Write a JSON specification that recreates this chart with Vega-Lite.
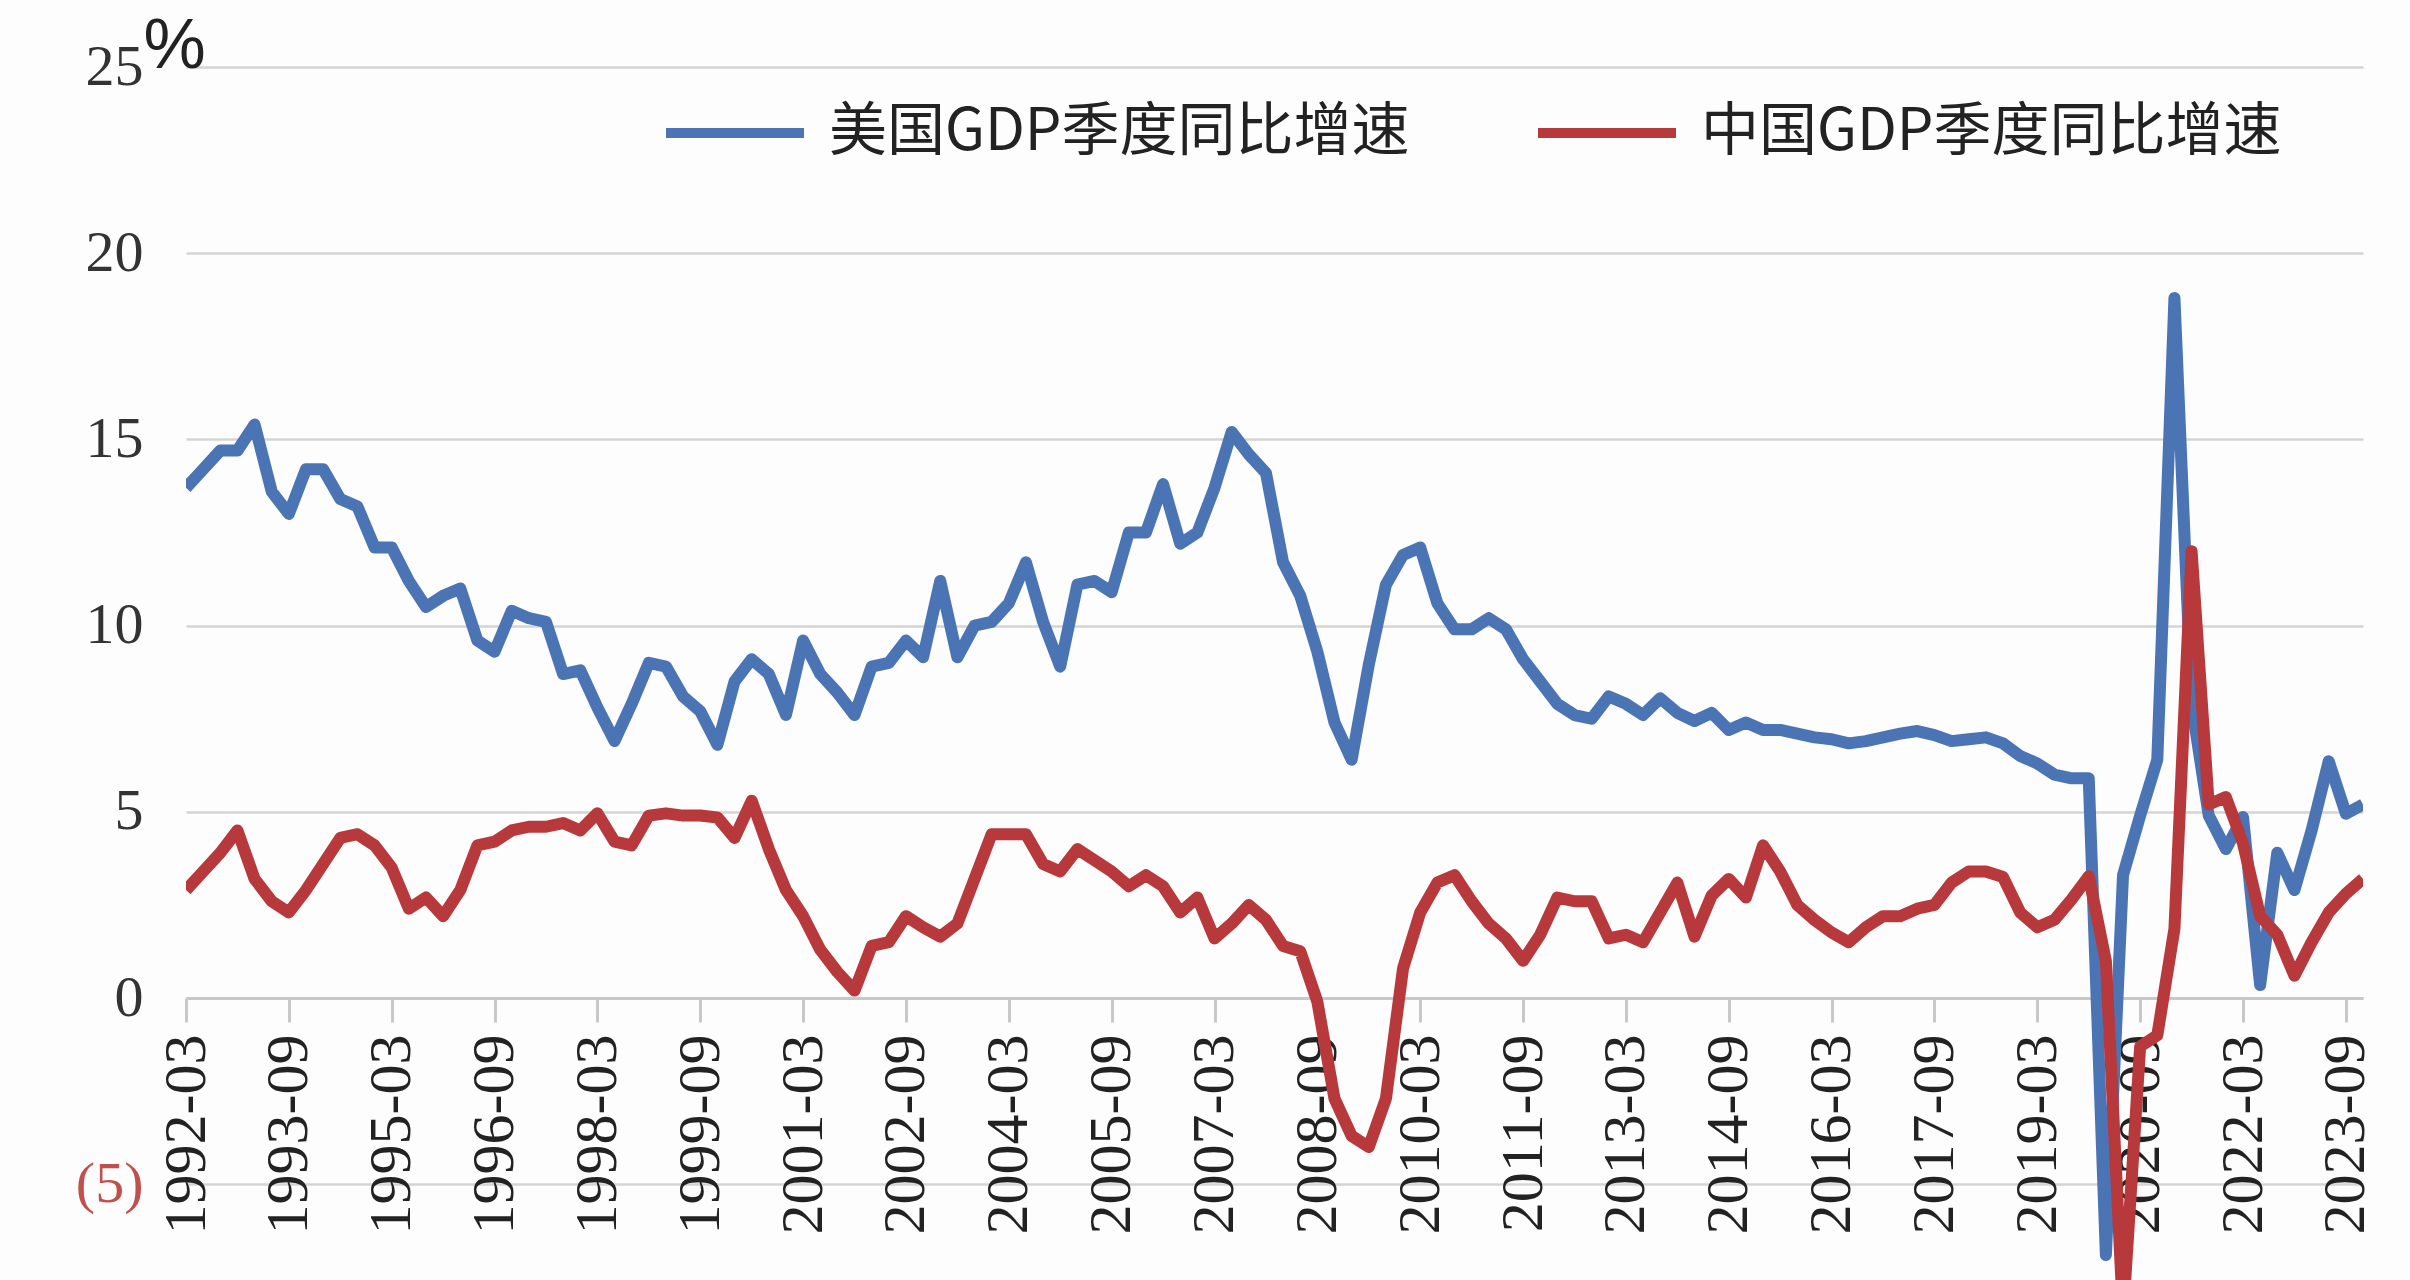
{
  "$schema": "https://vega.github.io/schema/vega-lite/v6.json",
  "width": 2177,
  "height": 1213,
  "autosize": {"type": "none"},
  "padding": {"left": 186, "top": 67, "right": 47, "bottom": 0},
  "background": "#fdfdfd",
  "config": {"view": {"stroke": null}},
  "data": {"values": [
    {"d":"1992-03","美国GDP季度同比增速":13.7,"中国GDP季度同比增速":2.9},
    {"d":"1992-06","美国GDP季度同比增速":14.2,"中国GDP季度同比增速":3.4},
    {"d":"1992-09","美国GDP季度同比增速":14.7,"中国GDP季度同比增速":3.9},
    {"d":"1992-12","美国GDP季度同比增速":14.7,"中国GDP季度同比增速":4.5},
    {"d":"1993-03","美国GDP季度同比增速":15.4,"中国GDP季度同比增速":3.2},
    {"d":"1993-06","美国GDP季度同比增速":13.6,"中国GDP季度同比增速":2.6},
    {"d":"1993-09","美国GDP季度同比增速":13.0,"中国GDP季度同比增速":2.3},
    {"d":"1993-12","美国GDP季度同比增速":14.2,"中国GDP季度同比增速":2.9},
    {"d":"1994-03","美国GDP季度同比增速":14.2,"中国GDP季度同比增速":3.6},
    {"d":"1994-06","美国GDP季度同比增速":13.4,"中国GDP季度同比增速":4.3},
    {"d":"1994-09","美国GDP季度同比增速":13.2,"中国GDP季度同比增速":4.4},
    {"d":"1994-12","美国GDP季度同比增速":12.1,"中国GDP季度同比增速":4.1},
    {"d":"1995-03","美国GDP季度同比增速":12.1,"中国GDP季度同比增速":3.5},
    {"d":"1995-06","美国GDP季度同比增速":11.2,"中国GDP季度同比增速":2.4},
    {"d":"1995-09","美国GDP季度同比增速":10.5,"中国GDP季度同比增速":2.7},
    {"d":"1995-12","美国GDP季度同比增速":10.8,"中国GDP季度同比增速":2.2},
    {"d":"1996-03","美国GDP季度同比增速":11.0,"中国GDP季度同比增速":2.9},
    {"d":"1996-06","美国GDP季度同比增速":9.6,"中国GDP季度同比增速":4.1},
    {"d":"1996-09","美国GDP季度同比增速":9.3,"中国GDP季度同比增速":4.2},
    {"d":"1996-12","美国GDP季度同比增速":10.4,"中国GDP季度同比增速":4.5},
    {"d":"1997-03","美国GDP季度同比增速":10.2,"中国GDP季度同比增速":4.6},
    {"d":"1997-06","美国GDP季度同比增速":10.1,"中国GDP季度同比增速":4.6},
    {"d":"1997-09","美国GDP季度同比增速":8.7,"中国GDP季度同比增速":4.7},
    {"d":"1997-12","美国GDP季度同比增速":8.8,"中国GDP季度同比增速":4.5},
    {"d":"1998-03","美国GDP季度同比增速":7.8,"中国GDP季度同比增速":4.96},
    {"d":"1998-06","美国GDP季度同比增速":6.9,"中国GDP季度同比增速":4.2},
    {"d":"1998-09","美国GDP季度同比增速":7.9,"中国GDP季度同比增速":4.1},
    {"d":"1998-12","美国GDP季度同比增速":9.0,"中国GDP季度同比增速":4.9},
    {"d":"1999-03","美国GDP季度同比增速":8.9,"中国GDP季度同比增速":4.96},
    {"d":"1999-06","美国GDP季度同比增速":8.1,"中国GDP季度同比增速":4.9},
    {"d":"1999-09","美国GDP季度同比增速":7.7,"中国GDP季度同比增速":4.9},
    {"d":"1999-12","美国GDP季度同比增速":6.8,"中国GDP季度同比增速":4.85},
    {"d":"2000-03","美国GDP季度同比增速":8.5,"中国GDP季度同比增速":4.3},
    {"d":"2000-06","美国GDP季度同比增速":9.1,"中国GDP季度同比增速":5.3},
    {"d":"2000-09","美国GDP季度同比增速":8.7,"中国GDP季度同比增速":4.0},
    {"d":"2000-12","美国GDP季度同比增速":7.6,"中国GDP季度同比增速":2.9},
    {"d":"2001-03","美国GDP季度同比增速":9.6,"中国GDP季度同比增速":2.2},
    {"d":"2001-06","美国GDP季度同比增速":8.7,"中国GDP季度同比增速":1.3},
    {"d":"2001-09","美国GDP季度同比增速":8.2,"中国GDP季度同比增速":0.7},
    {"d":"2001-12","美国GDP季度同比增速":7.6,"中国GDP季度同比增速":0.2},
    {"d":"2002-03","美国GDP季度同比增速":8.9,"中国GDP季度同比增速":1.4},
    {"d":"2002-06","美国GDP季度同比增速":9.0,"中国GDP季度同比增速":1.5},
    {"d":"2002-09","美国GDP季度同比增速":9.6,"中国GDP季度同比增速":2.2},
    {"d":"2002-12","美国GDP季度同比增速":9.15,"中国GDP季度同比增速":1.9},
    {"d":"2003-03","美国GDP季度同比增速":11.2,"中国GDP季度同比增速":1.65},
    {"d":"2003-06","美国GDP季度同比增速":9.15,"中国GDP季度同比增速":2.0},
    {"d":"2003-09","美国GDP季度同比增速":10.0,"中国GDP季度同比增速":3.2},
    {"d":"2003-12","美国GDP季度同比增速":10.1,"中国GDP季度同比增速":4.4},
    {"d":"2004-03","美国GDP季度同比增速":10.6,"中国GDP季度同比增速":4.4},
    {"d":"2004-06","美国GDP季度同比增速":11.7,"中国GDP季度同比增速":4.4},
    {"d":"2004-09","美国GDP季度同比增速":10.1,"中国GDP季度同比增速":3.6},
    {"d":"2004-12","美国GDP季度同比增速":8.9,"中国GDP季度同比增速":3.4},
    {"d":"2005-03","美国GDP季度同比增速":11.1,"中国GDP季度同比增速":4.0},
    {"d":"2005-06","美国GDP季度同比增速":11.2,"中国GDP季度同比增速":3.7},
    {"d":"2005-09","美国GDP季度同比增速":10.9,"中国GDP季度同比增速":3.4},
    {"d":"2005-12","美国GDP季度同比增速":12.5,"中国GDP季度同比增速":3.0},
    {"d":"2006-03","美国GDP季度同比增速":12.5,"中国GDP季度同比增速":3.3},
    {"d":"2006-06","美国GDP季度同比增速":13.8,"中国GDP季度同比增速":3.0},
    {"d":"2006-09","美国GDP季度同比增速":12.2,"中国GDP季度同比增速":2.3},
    {"d":"2006-12","美国GDP季度同比增速":12.5,"中国GDP季度同比增速":2.7},
    {"d":"2007-03","美国GDP季度同比增速":13.7,"中国GDP季度同比增速":1.6},
    {"d":"2007-06","美国GDP季度同比增速":15.2,"中国GDP季度同比增速":2.0},
    {"d":"2007-09","美国GDP季度同比增速":14.6,"中国GDP季度同比增速":2.5},
    {"d":"2007-12","美国GDP季度同比增速":14.1,"中国GDP季度同比增速":2.1},
    {"d":"2008-03","美国GDP季度同比增速":11.7,"中国GDP季度同比增速":1.4},
    {"d":"2008-06","美国GDP季度同比增速":10.8,"中国GDP季度同比增速":1.26},
    {"d":"2008-09","美国GDP季度同比增速":9.3,"中国GDP季度同比增速":-0.1},
    {"d":"2008-12","美国GDP季度同比增速":7.4,"中国GDP季度同比增速":-2.7},
    {"d":"2009-03","美国GDP季度同比增速":6.4,"中国GDP季度同比增速":-3.7},
    {"d":"2009-06","美国GDP季度同比增速":8.95,"中国GDP季度同比增速":-4.0},
    {"d":"2009-09","美国GDP季度同比增速":11.1,"中国GDP季度同比增速":-2.7},
    {"d":"2009-12","美国GDP季度同比增速":11.9,"中国GDP季度同比增速":0.8},
    {"d":"2010-03","美国GDP季度同比增速":12.1,"中国GDP季度同比增速":2.3},
    {"d":"2010-06","美国GDP季度同比增速":10.6,"中国GDP季度同比增速":3.1},
    {"d":"2010-09","美国GDP季度同比增速":9.9,"中国GDP季度同比增速":3.3},
    {"d":"2010-12","美国GDP季度同比增速":9.9,"中国GDP季度同比增速":2.6},
    {"d":"2011-03","美国GDP季度同比增速":10.2,"中国GDP季度同比增速":2.0},
    {"d":"2011-06","美国GDP季度同比增速":9.9,"中国GDP季度同比增速":1.6},
    {"d":"2011-09","美国GDP季度同比增速":9.1,"中国GDP季度同比增速":1.0},
    {"d":"2011-12","美国GDP季度同比增速":8.5,"中国GDP季度同比增速":1.7},
    {"d":"2012-03","美国GDP季度同比增速":7.9,"中国GDP季度同比增速":2.7},
    {"d":"2012-06","美国GDP季度同比增速":7.6,"中国GDP季度同比增速":2.6},
    {"d":"2012-09","美国GDP季度同比增速":7.5,"中国GDP季度同比增速":2.6},
    {"d":"2012-12","美国GDP季度同比增速":8.1,"中国GDP季度同比增速":1.6},
    {"d":"2013-03","美国GDP季度同比增速":7.9,"中国GDP季度同比增速":1.7},
    {"d":"2013-06","美国GDP季度同比增速":7.6,"中国GDP季度同比增速":1.5},
    {"d":"2013-09","美国GDP季度同比增速":8.05,"中国GDP季度同比增速":2.3},
    {"d":"2013-12","美国GDP季度同比增速":7.66,"中国GDP季度同比增速":3.1},
    {"d":"2014-03","美国GDP季度同比增速":7.44,"中国GDP季度同比增速":1.65},
    {"d":"2014-06","美国GDP季度同比增速":7.66,"中国GDP季度同比增速":2.75},
    {"d":"2014-09","美国GDP季度同比增速":7.2,"中国GDP季度同比增速":3.2},
    {"d":"2014-12","美国GDP季度同比增速":7.4,"中国GDP季度同比增速":2.7},
    {"d":"2015-03","美国GDP季度同比增速":7.2,"中国GDP季度同比增速":4.1},
    {"d":"2015-06","美国GDP季度同比增速":7.2,"中国GDP季度同比增速":3.4},
    {"d":"2015-09","美国GDP季度同比增速":7.1,"中国GDP季度同比增速":2.5},
    {"d":"2015-12","美国GDP季度同比增速":7.0,"中国GDP季度同比增速":2.1},
    {"d":"2016-03","美国GDP季度同比增速":6.95,"中国GDP季度同比增速":1.76},
    {"d":"2016-06","美国GDP季度同比增速":6.84,"中国GDP季度同比增速":1.5},
    {"d":"2016-09","美国GDP季度同比增速":6.9,"中国GDP季度同比增速":1.9},
    {"d":"2016-12","美国GDP季度同比增速":7.0,"中国GDP季度同比增速":2.2},
    {"d":"2017-03","美国GDP季度同比增速":7.1,"中国GDP季度同比增速":2.2},
    {"d":"2017-06","美国GDP季度同比增速":7.17,"中国GDP季度同比增速":2.4},
    {"d":"2017-09","美国GDP季度同比增速":7.06,"中国GDP季度同比增速":2.5},
    {"d":"2017-12","美国GDP季度同比增速":6.9,"中国GDP季度同比增速":3.1},
    {"d":"2018-03","美国GDP季度同比增速":6.95,"中国GDP季度同比增速":3.4},
    {"d":"2018-06","美国GDP季度同比增速":7.0,"中国GDP季度同比增速":3.4},
    {"d":"2018-09","美国GDP季度同比增速":6.84,"中国GDP季度同比增速":3.25},
    {"d":"2018-12","美国GDP季度同比增速":6.5,"中国GDP季度同比增速":2.3},
    {"d":"2019-03","美国GDP季度同比增速":6.3,"中国GDP季度同比增速":1.9},
    {"d":"2019-06","美国GDP季度同比增速":6.0,"中国GDP季度同比增速":2.1},
    {"d":"2019-09","美国GDP季度同比增速":5.9,"中国GDP季度同比增速":2.65},
    {"d":"2019-12","美国GDP季度同比增速":5.9,"中国GDP季度同比增速":3.27},
    {"d":"2020-03","美国GDP季度同比增速":-6.9,"中国GDP季度同比增速":1.0},
    {"d":"2020-06","美国GDP季度同比增速":3.3,"中国GDP季度同比增速":-8.5},
    {"d":"2020-09","美国GDP季度同比增速":4.9,"中国GDP季度同比增速":-1.3},
    {"d":"2020-12","美国GDP季度同比增速":6.4,"中国GDP季度同比增速":-1.0},
    {"d":"2021-03","美国GDP季度同比增速":18.8,"中国GDP季度同比增速":1.86},
    {"d":"2021-06","美国GDP季度同比增速":7.9,"中国GDP季度同比增速":12.0},
    {"d":"2021-09","美国GDP季度同比增速":4.9,"中国GDP季度同比增速":5.2},
    {"d":"2021-12","美国GDP季度同比增速":4.0,"中国GDP季度同比增速":5.4},
    {"d":"2022-03","美国GDP季度同比增速":4.86,"中国GDP季度同比增速":4.15},
    {"d":"2022-06","美国GDP季度同比增速":0.35,"中国GDP季度同比增速":2.2},
    {"d":"2022-09","美国GDP季度同比增速":3.9,"中国GDP季度同比增速":1.7},
    {"d":"2022-12","美国GDP季度同比增速":2.9,"中国GDP季度同比增速":0.6},
    {"d":"2023-03","美国GDP季度同比增速":4.5,"中国GDP季度同比增速":1.5},
    {"d":"2023-06","美国GDP季度同比增速":6.36,"中国GDP季度同比增速":2.3},
    {"d":"2023-09","美国GDP季度同比增速":4.95,"中国GDP季度同比增速":2.8},
    {"d":"2023-12","美国GDP季度同比增速":5.2,"中国GDP季度同比增速":3.2}
  ]},
  "transform": [{"fold": ["美国GDP季度同比增速", "中国GDP季度同比增速"], "as": ["s", "v"]}],
  "encoding": {
    "x": {
      "field": "d", "type": "ordinal",
      "scale": {"type": "point", "padding": 0},
      "axis": {
        "values": ["1992-03","1993-09","1995-03","1996-09","1998-03","1999-09","2001-03","2002-09","2004-03","2005-09","2007-03","2008-09","2010-03","2011-09","2013-03","2014-09","2016-03","2017-09","2019-03","2020-09","2022-03","2023-09"],
        "labelAngle": -90,
        "labelFont": "Liberation Serif",
        "labelFontSize": 60,
        "labelColor": "#222222",
        "labelPadding": 12,
        "labelLimit": 0,
        "labelOverlap": false,
        "labelBound": false,
        "tickSize": 24,
        "tickWidth": 3,
        "tickColor": "#c8c8c8",
        "domainColor": "#c8c8c8",
        "domainWidth": 3,
        "offset": -282,
        "title": null,
        "grid": false
      }
    },
    "y": {
      "field": "v", "type": "quantitative",
      "scale": {"domain": [-7.57, 25], "nice": false, "zero": false},
      "axis": {
        "values": [-5, 0, 5, 10, 15, 20, 25],
        "domain": false,
        "ticks": false,
        "labelFont": "Liberation Serif",
        "labelFontSize": 58,
        "labelPadding": 43,
        "labelColor": {"condition": {"test": "datum.value < 0", "value": "#c0504d"}, "value": "#333333"},
        "labelExpr": "datum.value < 0 ? '(' + abs(datum.value) + ')' : datum.label",
        "gridColor": "#d4d4d4",
        "gridWidth": 2.5,
        "title": "%",
        "titleAngle": 0,
        "titleFont": "Liberation Sans",
        "titleFontSize": 70,
        "titleFontWeight": "normal",
        "titleColor": "#222222",
        "titleAlign": "left",
        "titleBaseline": "alphabetic",
        "titleX": -43,
        "titleY": 0
      }
    },
    "color": {
      "field": "s", "type": "nominal",
      "scale": {"domain": ["美国GDP季度同比增速", "中国GDP季度同比增速"], "range": ["#4a74b4", "#b8393b"]},
      "legend": {
        "title": null,
        "orient": "none",
        "legendX": 475,
        "legendY": -8,
        "direction": "horizontal",
        "symbolType": "stroke",
        "symbolSize": 19044,
        "symbolStrokeWidth": 10,
        "labelFont": "Noto Sans CJK SC",
        "labelFontSize": 58,
        "labelColor": "#222222",
        "labelOffset": 20,
        "columnPadding": 108,
        "labelLimit": 1000,
        "padding": 0
      }
    }
  },
  "layer": [
    {
      "transform": [{"filter": "datum.s === '美国GDP季度同比增速'"}],
      "mark": {"type": "line", "strokeWidth": 12, "clip": true, "strokeJoin": "round"}
    },
    {
      "transform": [{"filter": "datum.s === '中国GDP季度同比增速'"}],
      "mark": {"type": "line", "strokeWidth": 12, "clip": true, "strokeJoin": "round"}
    }
  ]
}
